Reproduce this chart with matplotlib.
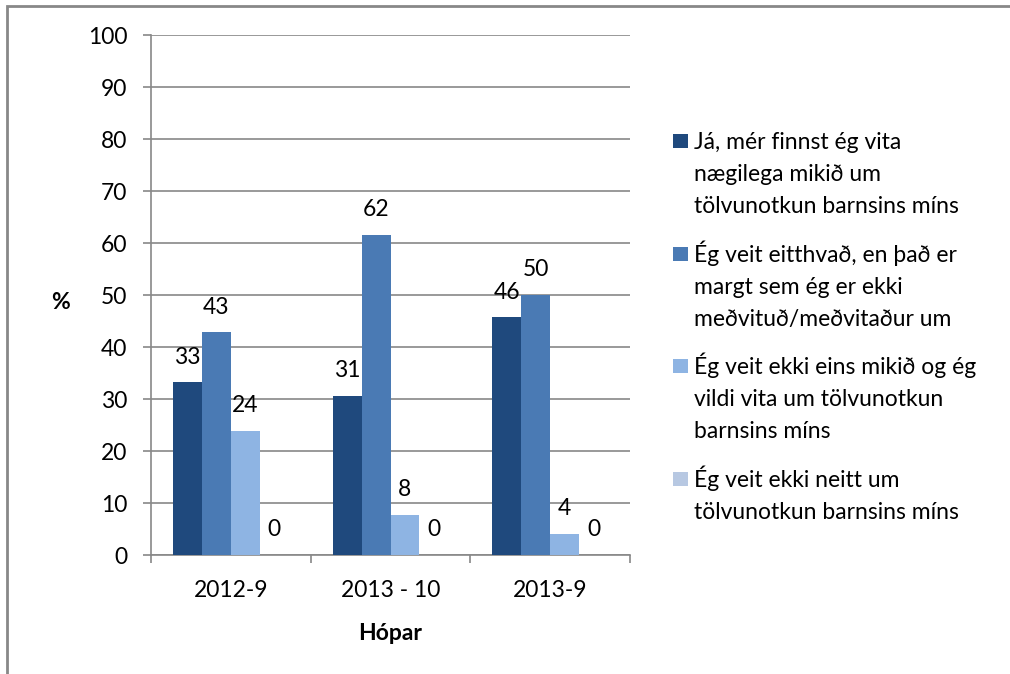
import matplotlib.pyplot as plt
from matplotlib.patches import Rectangle
import numpy as np

# Survey groups and answer shares (%)
groups = ['2012-9', '2013 - 10', '2013-9']
ja_nog = [33.2, 30.6, 45.7]
veit_eitthvad = [42.8, 61.5, 50.0]
veit_ekki_eins = [23.8, 7.7, 4.0]
veit_ekki_neitt = [0.0, 0.0, 0.0]

series_labels = [
    ['Já, mér finnst ég vita', 'nægilega mikið um',
     'tölvunotkun barnsins míns'],
    ['Ég veit eitthvað, en það er', 'margt sem ég er ekki',
     'meðvituð/meðvitaður um'],
    ['Ég veit ekki eins mikið og ég', 'vildi vita um tölvunotkun',
     'barnsins míns'],
    ['Ég veit ekki neitt um', 'tölvunotkun barnsins míns'],
]
colors = ['#1F497D', '#4A7AB4', '#8EB4E3', '#B7C8E2']

plt.rcParams['font.family'] = ['Lato', 'DejaVu Sans']
FS = 16.5
W, H = 1010, 674
fig = plt.figure(figsize=(W / 100, H / 100), dpi=100)
ax = fig.add_axes([151 / W, 1 - 555 / H, (630 - 151) / W, (555 - 35) / H])

grid_c = '#888888'
series = [ja_nog, veit_eitthvad, veit_ekki_eins, veit_ekki_neitt]
x = np.arange(len(groups))
bw = 0.181
for i, vals in enumerate(series):
    pos = x + (i - 1.5) * bw
    ax.bar(pos, vals, width=bw, color=colors[i], zorder=3)
    for px, v in zip(pos, vals):
        ax.annotate(f'{v:.0f}', (px, v), xytext=(0, 13.5),
                    textcoords='offset points', ha='center', va='baseline',
                    fontsize=FS, color='black')

ax.set_xlim(-0.5, len(groups) - 0.5)
ax.set_ylim(0, 100)
ax.set_yticks(range(0, 101, 10))
ax.yaxis.grid(True, color=grid_c, linewidth=1.2, zorder=0)
ax.set_xticks(x)
ax.set_xticklabels(groups)
ax.set_xticks(np.arange(len(groups) + 1) - 0.5, minor=True)
ax.tick_params(axis='x', which='major', length=0, pad=18, labelsize=FS)
ax.tick_params(axis='x', which='minor', length=6, width=1.2, color=grid_c,
               direction='out')
ax.tick_params(axis='y', length=6, width=1.2, color=grid_c, pad=11,
               labelsize=FS)
for s in ['top', 'right']:
    ax.spines[s].set_visible(False)
for s in ['left', 'bottom']:
    ax.spines[s].set_color(grid_c)
    ax.spines[s].set_linewidth(1.2)

fig.text(60 / W, 1 - 303 / H, '%', fontsize=FS, fontweight='bold',
         ha='center', va='center')
fig.text(390.5 / W, 1 - 640 / H, 'Hópar', fontsize=FS, fontweight='bold',
         ha='center', va='baseline')

# legend drawn by hand so the swatch sits on the first line
first_baselines = [149, 262, 374, 487]
for i, lines in enumerate(series_labels):
    b0 = first_baselines[i]
    fig.patches.append(Rectangle((673 / W, 1 - 148 / H - (b0 - 149) / H),
                                 15 / W, 14 / H, transform=fig.transFigure,
                                 facecolor=colors[i], edgecolor='none'))
    for j, line in enumerate(lines):
        fig.text(694 / W, 1 - (b0 + 32 * j) / H, line, fontsize=FS,
                 ha='left', va='baseline')

# chart frame (only top and left edges fall inside the picture)
fig.patches.append(Rectangle((7 / W, -0.1), 1.2, 1 - 6 / H + 0.1,
                             transform=fig.transFigure, facecolor='none',
                             edgecolor='#888888', linewidth=2))

fig.savefig('out.png', dpi=100)
